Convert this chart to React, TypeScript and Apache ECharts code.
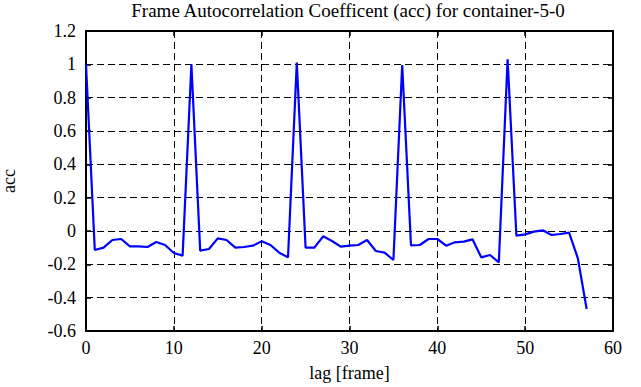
import React, { useEffect, useRef } from "react";
import * as echarts from "echarts";

const lags: number[] = Array.from({ length: 58 }, (_, i) => i);
const acc: number[] = [
  1.0, -0.114, -0.1, -0.054, -0.048, -0.092, -0.092, -0.096, -0.066, -0.084,
  -0.132, -0.148, 1.0, -0.118, -0.108, -0.044, -0.054, -0.1, -0.096, -0.088,
  -0.062, -0.084, -0.13, -0.158, 1.01, -0.1, -0.1, -0.032, -0.06, -0.094,
  -0.088, -0.084, -0.054, -0.12, -0.13, -0.174, 0.996, -0.086, -0.084, -0.048,
  -0.048, -0.088, -0.068, -0.064, -0.05, -0.158, -0.144, -0.188, 1.03, -0.028,
  -0.02, -0.004, 0.004, -0.024, -0.018, -0.01, -0.164, -0.468,
];
const title = "Frame Autocorrelation Coefficent (acc) for container-5-0";
const xName = "lag [frame]";
const yName = "acc";

const FONT = "Liberation Serif";

export default function App() {
  const ref = useRef<HTMLDivElement>(null);
  useEffect(() => {
    if (!ref.current) return;
    const chart = echarts.init(ref.current, null, { renderer: "svg" });
    const data = lags.map((l, i) => [l, acc[i]]);
    const axisLine = { show: true, onZero: false, lineStyle: { color: "#000", width: 2 } };
    const tick = { show: true, inside: true, length: 5, lineStyle: { color: "#000", width: 1.5 } };
    const split = { show: true, lineStyle: { color: "#000", type: [7, 4] as any, width: 1 } };
    const lbl = { fontFamily: FONT, fontSize: 18, color: "#000" };
    chart.setOption({
      animation: false,
      backgroundColor: "#fff",
      textStyle: { fontFamily: FONT },
      graphic: [
        {
          type: "text",
          x: 348,
          y: 10,
          style: {
            text: title,
            fill: "#000",
            font: "19px 'Liberation Serif'",
            textAlign: "center",
            textVerticalAlign: "middle",
          },
        },
      ],
      grid: {
        left: 86,
        right: 28,
        top: 31,
        bottom: 56,
        containLabel: false,
        outerBoundsMode: "none",
      },
      xAxis: [
        {
          type: "value",
          min: 0,
          max: 60,
          interval: 10,
          position: "bottom",
          name: xName,
          nameLocation: "middle",
          nameGap: 33,
          nameTextStyle: lbl,
          axisLine,
          axisTick: tick,
          axisLabel: { ...lbl, margin: 8 },
          splitLine: split,
        },
        {
          type: "value",
          min: 0,
          max: 60,
          interval: 10,
          position: "top",
          axisLine,
          axisTick: tick,
          axisLabel: { show: false },
          splitLine: { show: false },
        },
      ],
      yAxis: [
        {
          type: "value",
          min: -0.6,
          max: 1.2,
          interval: 0.2,
          position: "left",
          name: yName,
          nameLocation: "middle",
          nameGap: 68,
          nameRotate: 90,
          nameTextStyle: lbl,
          axisLine,
          axisTick: tick,
          axisLabel: {
            ...lbl,
            margin: 10,
            formatter: (v: number) => {
              const r = Math.round(v * 10) / 10;
              return r === 0 ? "0" : String(r);
            },
          },
          splitLine: split,
        },
        {
          type: "value",
          min: -0.6,
          max: 1.2,
          interval: 0.2,
          position: "right",
          axisLine,
          axisTick: tick,
          axisLabel: { show: false },
          splitLine: { show: false },
        },
      ],
      series: [
        {
          type: "line",
          data,
          xAxisIndex: 0,
          yAxisIndex: 0,
          showSymbol: false,
          symbol: "none",
          lineStyle: { color: "#0000ff", width: 2.2 },
          z: 5,
        },
      ],
    });
    return () => chart.dispose();
  }, []);
  return <div ref={ref} style={{ width: 641, height: 387, position: "absolute", left: 0, top: 0 }} />;
}
